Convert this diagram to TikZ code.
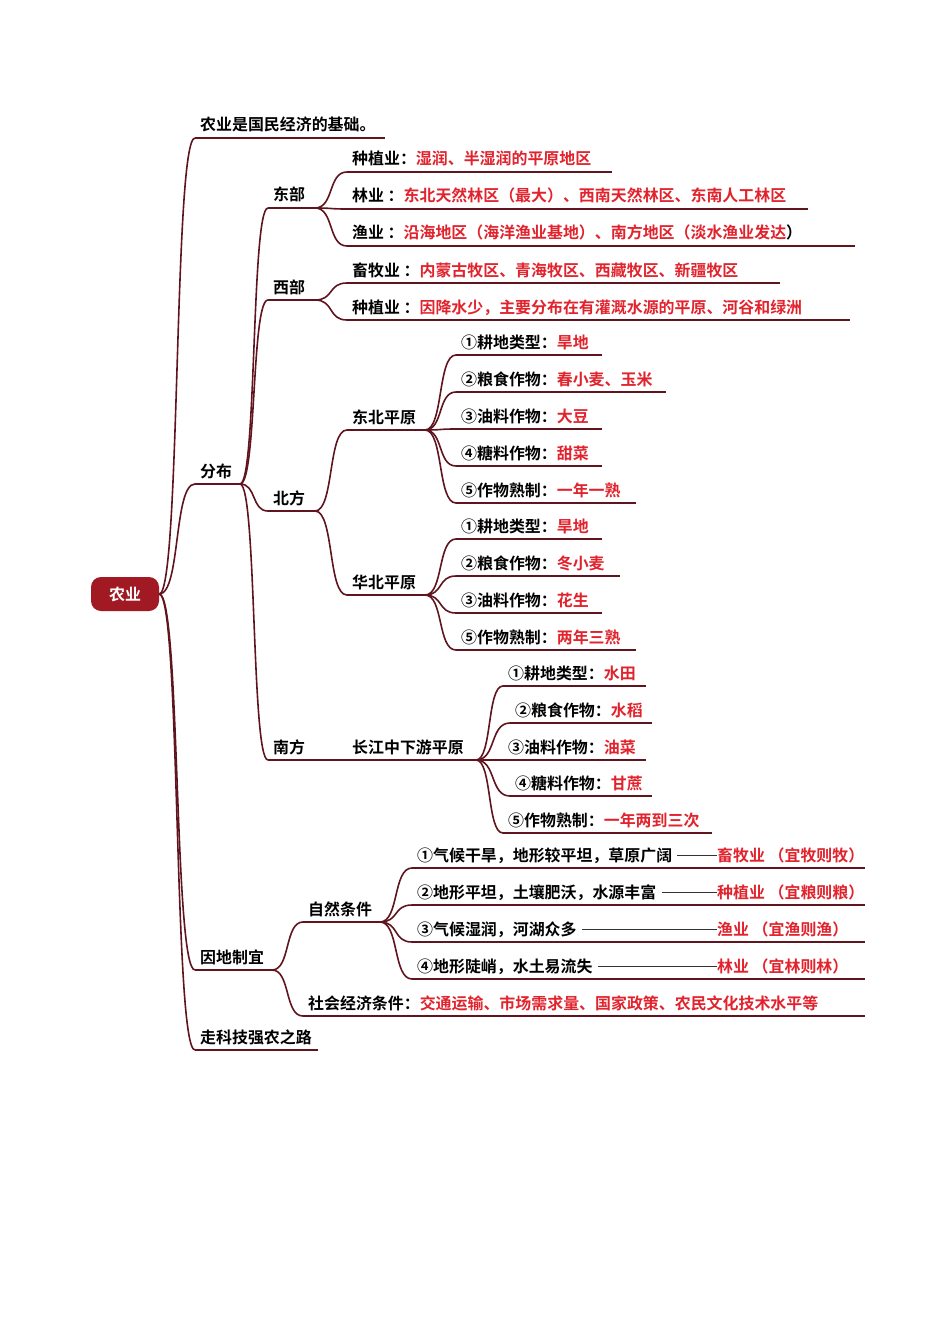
\documentclass[tikz,border=0pt]{standalone}
\usepackage{fontspec}
\setmainfont{Noto Sans CJK SC Bold}
\usepackage{xcolor}
\usepackage{tikz}
\usetikzlibrary{calc}

\definecolor{linecol}{RGB}{95,20,30}
\definecolor{hlred}{RGB}{225,35,45}
\definecolor{rootcol}{RGB}{160,25,35}
\newcommand{\hl}[1]{\textcolor{hlred}{#1}}

% one underlined entry: name, x left, x right, y of line, text
\newcommand{\mmnode}[5]{%
	\coordinate (#1-l) at (#2,#4);
	\coordinate (#1-r) at (#3,#4);
	\draw[uline] (#1-l) -- (#1-r);
	\node[lbl] (#1) at (#2+5,#4-7) {#5};}

% condition entry: name, y of line, condition, result (dash joins them)
\newcommand{\cond}[4]{%
	\mmnode{#1}{412}{865}{#2}{#3}
	\node[lbl, text=hlred] (#1-res) at (717,#2-7) {#4};
	\draw[joinline] (#1.east) ++(5,0) coordinate (#1-d) -- (#1-d -| #1-res.west);}

\begin{document}
\begin{tikzpicture}[x=1bp, y=-1bp,
	uline/.style = {draw=linecol, line width=1.6bp},
	joinline/.style = {draw=black!80, line width=1.2bp},
	link/.style = {draw=linecol, line width=1.6bp,
		to path={let \p1=(\tikztostart), \p2=(\tikztotarget) in
			.. controls ($(\p1)!0.6!(\x2,\y1)$) and ($(\p2)!0.6!(\x1,\y2)$) .. (\tikztotarget)}},
	lbl/.style = {anchor=base west, inner sep=0pt, font=\fontsize{16}{18}\selectfont}]
	\useasboundingbox (0,0) rectangle (950,1344);
	
	\node[fill=rootcol, rounded corners=10bp, minimum width=68bp, minimum height=34bp,
	text=white, font=\fontsize{16}{18}\selectfont] (root) at (125,594) {农业};
	
	% first level
	\mmnode{base}{195}{385}{138}{农业是国民经济的基础。}
	\mmnode{dist}{195}{240}{484}{分布}
	\mmnode{local}{195}{272}{970}{因地制宜}
	\mmnode{tech}{195}{318}{1050}{走科技强农之路}
	
	% 分布
	\mmnode{east}{268}{315}{208}{东部}
	\mmnode{west}{268}{315}{300}{西部}
	\mmnode{north}{268}{315}{511}{北方}
	\mmnode{south}{268}{315}{760}{南方}
	
	\mmnode{e1}{347}{612}{172}{种植业：\hl{湿润、半湿润的平原地区}}
	\mmnode{e2}{347}{808}{209}{林业 ：\hl{东北天然林区（最大）、西南天然林区、东南人工林区}}
	\mmnode{e3}{347}{855}{246}{渔业 ：\hl{沿海地区（海洋渔业基地）、南方地区（淡水渔业发达}）}
	\mmnode{w1}{347}{780}{283}{畜牧业 ：\hl{内蒙古牧区、青海牧区、西藏牧区、新疆牧区}}
	\mmnode{w2}{347}{850}{320}{种植业 ：\hl{因降水少，主要分布在有灌溉水源的平原、河谷和绿洲}}
	
	\mmnode{ne}{347}{425}{430}{东北平原}
	\mmnode{nc}{347}{425}{595}{华北平原}
	\mmnode{ne1}{456}{602}{355}{①耕地类型：\hl{旱地}}
	\mmnode{ne2}{456}{666}{392}{②粮食作物：\hl{春小麦、玉米}}
	\mmnode{ne3}{456}{602}{429}{③油料作物：\hl{大豆}}
	\mmnode{ne4}{456}{602}{466}{④糖料作物：\hl{甜菜}}
	\mmnode{ne5}{456}{636}{503}{⑤作物熟制：\hl{一年一熟}}
	\mmnode{nc1}{456}{602}{539}{①耕地类型：\hl{旱地}}
	\mmnode{nc2}{456}{620}{576}{②粮食作物：\hl{冬小麦}}
	\mmnode{nc3}{456}{602}{613}{③油料作物：\hl{花生}}
	\mmnode{nc5}{456}{636}{650}{⑤作物熟制：\hl{两年三熟}}
	
	\mmnode{yz}{347}{476}{760}{长江中下游平原}
	\mmnode{yz1}{503}{646}{686}{①耕地类型：\hl{水田}}
	\mmnode{yz2}{510}{652}{723}{②粮食作物：\hl{水稻}}
	\mmnode{yz3}{503}{646}{760}{③油料作物：\hl{油菜}}
	\mmnode{yz4}{510}{652}{796}{④糖料作物：\hl{甘蔗}}
	\mmnode{yz5}{503}{712}{833}{⑤作物熟制：\hl{一年两到三次}}
	
	% 因地制宜
	\mmnode{nat}{303}{380}{922}{自然条件}
	\mmnode{soc}{303}{865}{1016}{社会经济条件：\hl{交通运输、市场需求量、国家政策、农民文化技术水平等}}
	\cond{n1}{868}{①气候干旱，地形较平坦，草原广阔}{畜牧业 （宜牧则牧）}
	\cond{n2}{905}{②地形平坦，土壤肥沃，水源丰富}{种植业 （宜粮则粮）}
	\cond{n3}{942}{③气候湿润，河湖众多}{渔业 （宜渔则渔）}
	\cond{n4}{979}{④地形陡峭，水土易流失}{林业 （宜林则林）}
	
	% connectors
	\foreach \c in {base,dist,local,tech}
	\draw[link] (root.east) to (\c-l);
	\foreach \c in {east,west,north,south}
	\draw[link] (dist-r) to (\c-l);
	\foreach \c in {e1,e2,e3}
	\draw[link] (east-r) to (\c-l);
	\foreach \c in {w1,w2}
	\draw[link] (west-r) to (\c-l);
	\foreach \c in {ne,nc}
	\draw[link] (north-r) to (\c-l);
	\foreach \c in {ne1,ne2,ne3,ne4,ne5}
	\draw[link] (ne-r) to (\c-l);
	\foreach \c in {nc1,nc2,nc3,nc5}
	\draw[link] (nc-r) to (\c-l);
	\draw[uline] (south-r) -- (yz-l);
	\foreach \c in {yz1,yz2,yz3,yz4,yz5}
	\draw[link] (yz-r) to (\c-l);
	\foreach \c in {nat,soc}
	\draw[link] (local-r) to (\c-l);
	\foreach \c in {n1,n2,n3,n4}
	\draw[link] (nat-r) to (\c-l);
\end{tikzpicture}
\end{document}
